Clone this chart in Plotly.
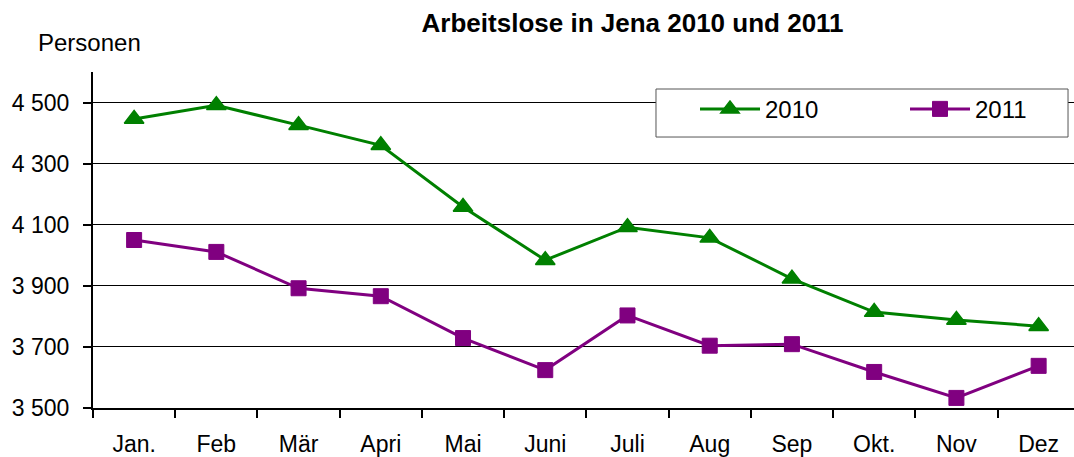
import plotly.graph_objects as go

months = ["Jan.", "Feb", "Mär", "Apri", "Mai", "Juni", "Juli", "Aug", "Sep", "Okt.", "Nov", "Dez"]
values_2010 = [4446, 4491, 4426, 4360, 4158, 3984, 4092, 4057, 3923, 3814, 3788, 3768]
values_2011 = [4050, 4011, 3892, 3866, 3729, 3624, 3803, 3704, 3709, 3618, 3533, 3638]
y_tickvals = [3500, 3700, 3900, 4100, 4300, 4500]
y_ticktext = ["3 500", "3 700", "3 900", "4 100", "4 300", "4 500"]

FONT = "Liberation Sans, Arial, sans-serif"
GREEN = "#008000"
PURPLE = "#800080"

fig = go.Figure()
fig.add_trace(go.Scatter(
    x=months, y=values_2010, name="2010", mode="lines+markers",
    line=dict(color=GREEN, width=3),
    marker=dict(symbol="triangle-up", size=17, color=GREEN, line=dict(color=GREEN, width=1.5)),
))
fig.add_trace(go.Scatter(
    x=months, y=values_2011, name="2011", mode="lines+markers",
    line=dict(color=PURPLE, width=3),
    marker=dict(symbol="square", size=15, color=PURPLE, line=dict(color=PURPLE, width=1)),
))

# legend box
fig.add_shape(type="rect", xref="paper", yref="paper",
              x0=0.5739, x1=0.9939, y0=0.8065, y1=0.9494,
              fillcolor="white", line=dict(color="#555555", width=1), layer="above")

fig.add_annotation(text="Personen", xref="paper", yref="paper", x=-0.058, y=1.089,
                   xanchor="left", yanchor="middle", showarrow=False,
                   font=dict(family=FONT, size=24, color="black"))

fig.update_layout(
    width=1074, height=457,
    margin=dict(l=93, r=0, t=72, b=49, autoexpand=False),
    paper_bgcolor="white", plot_bgcolor="white",
    font=dict(family=FONT, size=23, color="black"),
    title=dict(text="<b>Arbeitslose in Jena 2010 und 2011</b>", x=0.589, xanchor="center",
               y=1 - 23 / 457, yanchor="middle", yref="container",
               font=dict(family=FONT, size=26, color="black")),
    showlegend=True,
    legend=dict(orientation="h", x=(695 - 93) / 981, y=0.956, xanchor="left", yanchor="top",
                bgcolor="rgba(0,0,0,0)", borderwidth=0, itemwidth=60, entrywidth=135,
                font=dict(family=FONT, size=24, color="black")),
    xaxis=dict(type="category", range=[-0.5, 11.43], showgrid=False,
               showline=True, linecolor="black", linewidth=2,
               ticks="outside", tickson="boundaries", ticklen=8, tickcolor="black", tickwidth=2,
               ticklabelstandoff=14,
               tickfont=dict(family=FONT, size=23, color="black"), fixedrange=True),
    yaxis=dict(range=[3500, 4600], tickvals=y_tickvals, ticktext=y_ticktext,
               showgrid=True, gridcolor="black", gridwidth=1, zeroline=False,
               showline=True, linecolor="black", linewidth=2,
               ticks="outside", ticklen=8, tickcolor="black", tickwidth=2,
               ticklabelstandoff=9,
               tickfont=dict(family=FONT, size=23, color="black"), fixedrange=True),
)

fig.write_html("out.html", config={"responsive": False, "displayModeBar": False},
               post_script="document.body.style.margin='0';document.body.style.overflow='hidden';")
